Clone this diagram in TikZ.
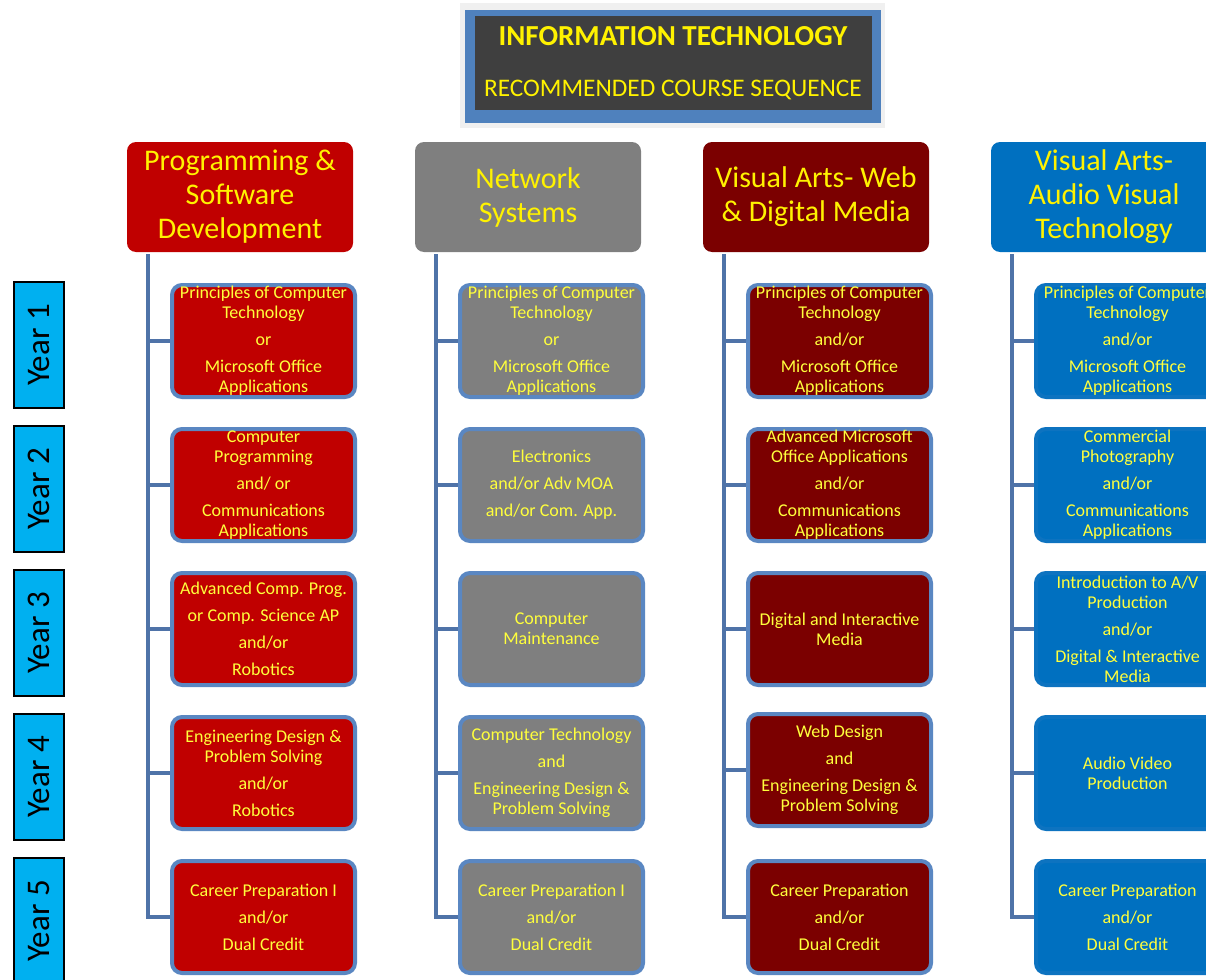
\documentclass[tikz,border=0pt]{standalone}
\usepackage{fontspec}
\setmainfont{Carlito}
\definecolor{psred}{HTML}{C00000}
\definecolor{nsgray}{HTML}{7F7F7F}
\definecolor{vwred}{HTML}{7B0000}
\definecolor{avblue}{HTML}{0070C0}
\definecolor{trunk}{HTML}{4F73A8}
\definecolor{rim}{HTML}{5A87C2}
\definecolor{yearcyan}{HTML}{00B0F0}
\definecolor{txt}{HTML}{FFFF3C}
\definecolor{titleblue}{HTML}{4F81BD}
\definecolor{titledark}{HTML}{3F3F3F}
\begin{document}
\begin{tikzpicture}[x=1pt,y=-1pt,
    hdr/.style={rounded corners=9pt,minimum width=226pt,minimum height=110pt,inner sep=0pt,
      text=yellow,align=center,font=\fontsize{30}{34}\selectfont},
    course/.style={draw=rim,line width=4pt,rounded corners=10pt,minimum width=183pt,minimum height=112pt,
      inner sep=0pt,text=txt,align=center,font=\fontsize{18}{20}\selectfont},
    yr/.style={draw=black,line width=2pt,fill=yearcyan,minimum width=126pt,minimum height=50pt,
      rotate=90,font=\fontsize{33}{34}\selectfont},
    trunkline/.style={draw=trunk,line width=4pt}]
  \path[use as bounding box,clip] (0,0) rectangle (1206,979);

  \node[fill=black!6,minimum width=425pt,minimum height=125pt] (frame) at (672.5,65.5) {};
  \node[fill=titleblue,minimum width=416pt,minimum height=113pt] (band) at (673,66.5) {};
  \node[fill=titledark,minimum width=397pt,minimum height=94pt] (title) at (673.5,63) {};
  \node[text=yellow,font=\bfseries\fontsize{29}{30}\selectfont] (it) at (673,36) {INFORMATION TECHNOLOGY};
  \node[text=yellow,font=\fontsize{25.3}{30}\selectfont] (rcs) at (673,90) {RECOMMENDED COURSE SEQUENCE};

  \node[hdr,fill=psred] (ps) at (240,197) {Programming \&\\Software\\Development};
  \node[hdr,fill=nsgray] (ns) at (528,197) {Network\\Systems};
  \node[hdr,fill=vwred] (vw) at (816,197) {Visual Arts- Web\\\& Digital Media};
  \node[hdr,fill=avblue] (av) at (1104,197) {Visual Arts-\\Audio Visual\\Technology};

  \node[course,fill=psred] (ps1) at (263.5,341) {Principles of Computer\\Technology\\[7pt]or\\[7pt]Microsoft Office\\Applications};
  \node[course,fill=psred] (ps2) at (263.5,485) {Computer\\Programming\\[7pt]and/ or\\[7pt]Communications\\Applications};
  \node[course,fill=psred] (ps3) at (263.5,629) {Advanced Comp. Prog.\\[7pt]or Comp. Science AP\\[7pt]and/or\\[7pt]Robotics};
  \node[course,fill=psred] (ps4) at (263.5,773) {Engineering Design \&\\Problem Solving\\[7pt]and/or\\[7pt]Robotics};
  \node[course,fill=psred] (ps5) at (263.5,917) {Career Preparation I\\[7pt]and/or\\[7pt]Dual Credit};

  \node[course,fill=nsgray] (ns1) at (551.5,341) {Principles of Computer\\Technology\\[7pt]or\\[7pt]Microsoft Office\\Applications};
  \node[course,fill=nsgray] (ns2) at (551.5,485) {Electronics\\[7pt]and/or Adv MOA\\[7pt]and/or Com. App.};
  \node[course,fill=nsgray] (ns3) at (551.5,629) {Computer\\Maintenance};
  \node[course,fill=nsgray] (ns4) at (551.5,773) {Computer Technology\\[7pt]and\\[7pt]Engineering Design \&\\Problem Solving};
  \node[course,fill=nsgray] (ns5) at (551.5,917) {Career Preparation I\\[7pt]and/or\\[7pt]Dual Credit};

  \node[course,fill=vwred] (vw1) at (839.5,341) {Principles of Computer\\Technology\\[7pt]and/or\\[7pt]Microsoft Office\\Applications};
  \node[course,fill=vwred] (vw2) at (839.5,485) {Advanced Microsoft\\Office Applications\\[7pt]and/or\\[7pt]Communications\\Applications};
  \node[course,fill=vwred] (vw3) at (839.5,629) {Digital and Interactive\\Media};
  \node[course,fill=vwred] (vw4) at (839.5,770) {Web Design\\[7pt]and\\[7pt]Engineering Design \&\\Problem Solving};
  \node[course,fill=vwred] (vw5) at (839.5,917) {Career Preparation\\[7pt]and/or\\[7pt]Dual Credit};

  \node[course,fill=avblue,draw=avblue!85!rim] (av1) at (1127.5,341) {Principles of Computer\\Technology\\[7pt]and/or\\[7pt]Microsoft Office\\Applications};
  \node[course,fill=avblue,draw=avblue!85!rim] (av2) at (1127.5,485) {Commercial\\Photography\\[7pt]and/or\\[7pt]Communications\\Applications};
  \node[course,fill=avblue,draw=avblue!85!rim] (av3) at (1127.5,629) {Introduction to A/V\\Production\\[7pt]and/or\\[7pt]Digital \& Interactive\\Media};
  \node[course,fill=avblue,draw=avblue!85!rim] (av4) at (1127.5,773) {Audio Video\\Production};
  \node[course,fill=avblue,draw=avblue!85!rim] (av5) at (1127.5,917) {Career Preparation\\[7pt]and/or\\[7pt]Dual Credit};

  \foreach \c/\x in {ps/148,ns/436,vw/724,av/1012} {
    \coordinate (\c t) at (\x,254);
    \draw[trunkline] (\c t) |- (\c5);
    \foreach \r in {1,...,4}
      \draw[trunkline] (\c t |- \c\r) -- (\c\r);
  }

  \foreach \n in {1,...,5}
    \node[yr] (y\n) at (39,{345+144*(\n-1)}) {Year \n};
\end{tikzpicture}
\end{document}
